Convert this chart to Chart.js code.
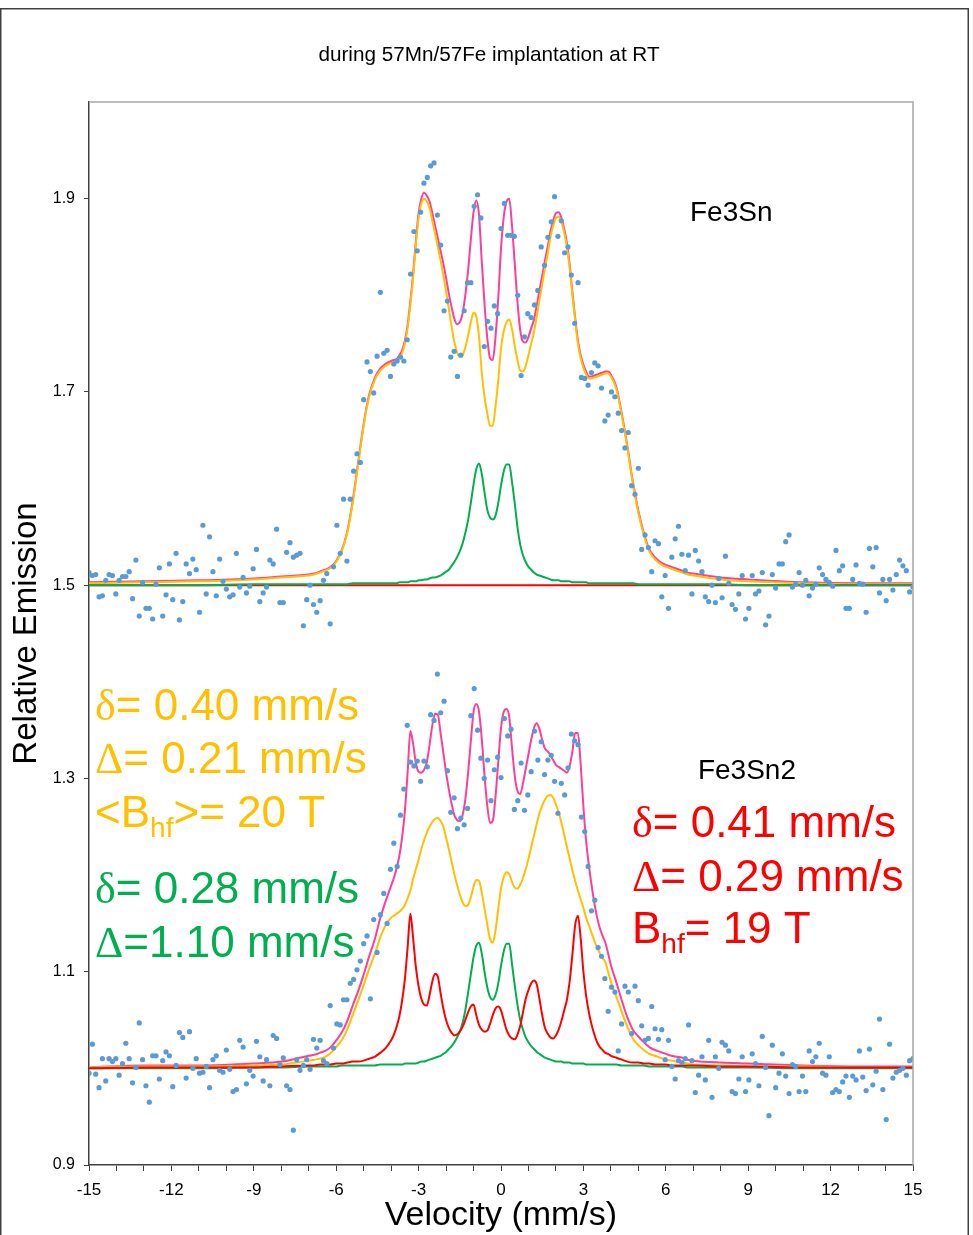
<!DOCTYPE html>
<html><head><meta charset="utf-8">
<script src="https://cdn.jsdelivr.net/npm/chart.js@4.4.1/dist/chart.umd.min.js"></script>
<style>html,body{margin:0;padding:0;background:#fff;}canvas{display:block;}</style>
</head><body>
<canvas id="c" width="973" height="1235"></canvas>
<script>
// ---------- texts ----------
const titleText = 'during 57Mn/57Fe implantation at RT';
const xAxisTitle = 'Velocity (mm/s)';
const yAxisTitle = 'Relative Emission';

// ---------- ticks ----------
const xTickValues = [-15,-14,-13,-12,-11,-10,-9,-8,-7,-6,-5,-4,-3,-2,-1,0,1,2,3,4,5,6,7,8,9,10,11,12,13,14,15];
const xLabelledTicks = [-15,-12,-9,-6,-3,0,3,6,9,12,15];
const yTickValues = [0.9,1.1,1.3,1.5,1.7,1.9];

// ---------- measured spectra (channel velocity range) ----------
const channelVelStart = -15;
const channelVelEnd = 15;

const upperCounts = [
1.513,1.510,1.511,1.488,1.489,1.505,1.511,1.510,1.491,1.505,
1.509,1.509,1.514,1.486,1.526,1.468,1.503,1.476,1.476,1.465,
1.501,1.518,1.468,1.490,1.522,1.485,1.533,1.464,1.483,1.522,
1.512,1.527,1.516,1.472,1.562,1.491,1.550,1.514,1.489,1.527,
1.504,1.496,1.488,1.490,1.533,1.498,1.508,1.492,1.499,1.517,
1.537,1.483,1.492,1.498,1.526,1.522,1.558,1.482,1.482,1.534,
1.544,1.529,1.531,1.533,1.458,1.485,1.500,1.480,1.472,1.484,
1.505,1.512,1.460,1.519,1.562,1.533,1.589,1.525,1.589,
1.618,1.636,1.627,
1.692,1.731,1.721,1.699,1.737,1.803,1.740,1.743,1.716,1.729,
1.732,1.736,1.732,1.754,1.822,1.866,1.846,1.886,1.916,1.922,
1.934,1.937,1.883,1.852,1.784,1.794,1.736,1.742,1.716,1.738,
1.784,1.813,1.813,1.892,1.904,1.880,1.747,1.773,1.766,1.789,
1.781,1.869,1.895,1.862,1.862,1.861,1.800,1.717,1.757,1.781,
1.777,1.790,1.805,1.850,1.831,1.860,1.876,1.902,1.861,1.877,
1.844,1.850,1.821,1.771,1.813,1.715,1.714,1.707,1.720,1.730,
1.727,1.704,1.670,1.676,1.700,1.695,1.678,1.660,1.642,1.658,
1.603,1.594,1.621,
1.537,1.552,1.539,1.514,1.546,1.543,1.488,1.510,1.476,1.529,
1.548,1.561,1.532,1.515,1.531,1.491,1.536,1.525,1.514,1.488,
1.483,1.500,1.482,1.507,1.487,1.530,1.502,1.480,1.475,1.491,
1.510,1.465,1.476,1.510,1.491,1.494,1.513,1.459,1.468,1.511,
1.497,1.522,1.522,1.545,1.552,1.498,1.501,1.513,1.500,1.505,
1.489,1.497,1.501,1.518,1.511,1.506,1.503,1.499,1.536,1.515,
1.520,1.476,1.476,1.506,1.521,1.502,1.501,1.472,1.538,1.519,
1.539,1.492,1.506,1.484,1.506,1.495,1.511,1.526,1.520,1.515,
1.493,1.498
];

const lowerCounts = [
0.995,1.025,0.994,0.980,1.010,0.987,1.010,1.007,1.010,0.993,
1.005,1.026,1.010,0.985,1.001,1.047,1.009,0.982,0.965,1.013,
1.013,0.989,1.008,1.017,1.013,0.981,1.003,1.037,1.032,0.990,
1.038,1.000,1.010,0.995,0.996,1.002,0.980,1.009,1.013,0.998,
0.996,1.019,0.999,0.976,0.978,1.029,1.022,0.984,0.998,0.992,
1.028,1.012,0.987,1.009,0.982,1.034,1.031,1.004,1.011,0.982,
0.978,0.936,1.009,0.998,1.003,1.009,0.999,1.030,1.021,1.029,
1.008,1.005,1.065,1.021,1.046,1.045,1.071,1.071,
1.088,1.092,1.102,1.111,1.129,
1.137,1.072,1.154,1.120,1.159,1.181,1.150,1.206,1.233,1.209,
1.262,1.289,1.355,1.317,1.313,1.318,1.297,1.318,1.312,1.366,
1.360,1.408,1.368,1.380,1.308,1.265,1.280,1.248,1.259,1.252,
1.269,1.365,1.393,1.350,1.321,1.300,1.319,1.277,1.309,1.322,
1.301,1.362,1.344,1.351,1.268,1.277,1.316,1.267,1.283,1.307,
1.349,1.319,1.338,1.304,1.319,1.324,1.297,1.264,1.295,1.283,
1.311,1.346,1.339,1.335,1.260,1.245,1.209,1.163,1.174,1.125,
1.116,
1.093,1.059,1.084,1.079,1.018,1.046,1.085,1.079,1.036,1.085,
1.070,1.044,1.029,1.031,1.064,1.041,1.030,1.040,1.009,1.029,1.002,
0.989,1.008,1.006,1.010,1.045,1.008,0.975,0.993,1.012,0.988,
1.029,0.970,1.012,1.000,1.027,1.024,1.018,0.976,0.974,0.989,
1.012,0.976,0.988,1.015,1.005,0.982,1.033,1.001,0.951,1.024,
0.980,0.995,1.015,0.992,0.974,1.004,1.002,0.976,0.992,0.976,
1.018,1.007,1.012,1.026,0.995,0.993,1.012,0.975,0.978,0.976,
0.986,0.992,0.970,0.992,0.988,1.018,0.991,0.977,1.020,0.983,
0.997,1.051,0.978,0.947,1.025,0.990,0.996,0.998,1.000,0.993,
1.008,1.010
];

// ---------- fitted curves (velocity grid + values) ----------
const curveVel = [-15,-13,-11,-9,-8,
-7,-6.8,-6.6,-6.4,-6.2,-6,-5.8,-5.6,-5.4,-5.2,-5,-4.8,-4.6,-4.4,-4.2,
-4,-3.9,-3.8,-3.7,-3.6,-3.5,-3.4,-3.3,-3.2,-3.1,
-3,-2.9,-2.8,-2.7,-2.6,-2.5,-2.4,-2.3,-2.2,-2.1,
-2,-1.9,-1.8,-1.7,-1.6,-1.5,-1.4,-1.3,-1.2,-1.1,
-1,-0.9,-0.8,-0.7,-0.6,-0.5,-0.4,-0.3,-0.2,-0.1,
0,0.1,0.2,0.3,0.4,0.5,0.6,0.7,0.8,0.9,
1,1.1,1.2,1.3,1.4,1.5,1.6,1.7,1.8,1.9,
2,2.1,2.2,2.3,2.4,2.5,2.6,2.7,2.8,2.9,
3,3.1,3.2,3.3,3.4,3.5,3.6,3.7,3.8,3.9,
4,
4.2,4.4,4.6,4.8,5,5.2,5.4,5.6,5.8,6,6.2,6.4,6.6,6.8,7,
8,9,11,13,15];

// Fe3Sn (upper)
const upperOrangeFit = [1.502,1.503,1.504,1.506,1.508,
1.510,1.511,1.513,1.515,1.518,1.524,1.535,1.554,1.585,1.625,1.665,1.695,1.712,1.722,1.727,
1.730,1.731,1.732,1.735,1.740,1.750,1.766,1.790,1.818,1.852,
1.880,1.895,1.900,1.897,1.890,1.877,1.864,1.850,1.836,1.821,
1.804,1.786,1.768,1.752,1.741,1.737,1.738,1.746,1.758,1.772,
1.782,1.778,1.757,1.720,1.695,1.678,1.665,1.665,1.685,1.712,
1.745,1.763,1.772,1.775,1.765,1.748,1.733,1.722,1.721,1.727,
1.738,1.750,1.762,1.778,1.795,1.811,1.828,1.843,1.860,1.872,
1.880,1.881,1.876,1.865,1.850,1.828,1.800,1.774,1.750,1.735,
1.725,1.718,1.714,1.714,1.715,1.716,1.717,1.718,1.719,1.719,
1.716,
1.703,1.675,1.642,1.605,1.575,1.552,1.535,1.527,1.522,1.519,1.517,1.515,1.513,1.511,1.510,
1.506,1.504,1.502,1.501,1.501];

const upperGreenFit = [1.500,1.500,1.500,1.501,1.501,
1.501,1.501,1.501,1.501,1.501,1.501,1.501,1.501,1.502,1.502,1.502,1.502,1.502,1.502,1.502,
1.502,1.502,1.502,1.503,1.503,1.503,1.503,1.504,1.504,1.504,
1.505,1.505,1.506,1.506,1.507,1.508,1.508,1.509,1.510,1.512,
1.514,1.516,1.520,1.524,1.529,1.535,1.543,1.554,1.567,1.585,
1.604,1.620,1.626,1.615,1.596,1.578,1.570,1.568,1.572,1.585,
1.603,1.618,1.625,1.625,1.607,1.585,1.560,1.542,1.531,1.524,
1.519,1.516,1.513,1.511,1.510,1.509,1.508,1.507,1.506,1.505,
1.505,1.505,1.504,1.504,1.504,1.504,1.503,1.503,1.503,1.503,
1.503,1.503,1.502,1.502,1.502,1.502,1.502,1.502,1.502,1.502,
1.502,
1.502,1.502,1.502,1.502,1.501,1.501,1.501,1.501,1.501,1.501,1.501,1.501,1.501,1.501,1.501,
1.501,1.500,1.500,1.500,1.500];

const upperTotalFit = [1.503,1.504,1.505,1.507,1.509,
1.511,1.512,1.514,1.516,1.519,1.525,1.536,1.555,1.587,1.627,1.667,1.697,1.714,1.724,1.729,
1.732,1.733,1.734,1.738,1.743,1.753,1.769,1.794,1.822,1.856,
1.885,1.900,1.906,1.903,1.897,1.885,1.872,1.859,1.846,1.833,
1.818,1.802,1.788,1.776,1.770,1.772,1.781,1.800,1.825,1.857,
1.886,1.898,1.883,1.835,1.791,1.756,1.735,1.733,1.757,1.797,
1.848,1.881,1.897,1.900,1.872,1.833,1.793,1.764,1.752,1.751,
1.757,1.766,1.775,1.789,1.805,1.820,1.836,1.850,1.866,1.877,
1.885,1.886,1.880,1.869,1.854,1.832,1.803,1.777,1.753,1.738,
1.728,1.721,1.716,1.716,1.717,1.718,1.719,1.720,1.721,1.721,
1.718,
1.705,1.677,1.644,1.607,1.577,1.554,1.537,1.529,1.524,1.521,1.519,1.517,1.515,1.513,1.512,
1.508,1.506,1.503,1.502,1.502];

const upperRedVel = [-15, 15];
const upperRedFit = [1.500, 1.500];

// Fe3Sn2 (lower)
const lowerOrangeFit = [1.001,1.002,1.002,1.003,1.004,
1.008,1.009,1.010,1.012,1.016,1.022,1.029,1.040,1.055,1.070,1.086,1.103,1.118,1.135,1.148,
1.156,1.158,1.160,1.162,1.165,1.169,1.176,1.184,1.196,1.206,
1.216,1.227,1.236,1.244,1.250,1.255,1.258,1.259,1.256,1.250,
1.239,1.227,1.214,1.201,1.190,1.180,1.172,1.168,1.169,1.177,
1.188,1.195,1.194,1.182,1.165,1.149,1.134,1.130,1.143,1.165,
1.186,1.198,1.203,1.201,1.193,1.187,1.186,1.190,1.197,1.206,
1.217,1.229,1.241,1.253,1.264,1.272,1.278,1.282,1.283,1.280,
1.273,1.265,1.254,1.242,1.229,1.217,1.205,1.194,1.184,1.175,
1.166,1.156,1.148,1.140,1.132,1.125,1.119,1.114,1.110,1.100,
1.090,
1.074,1.058,1.043,1.031,1.024,1.019,1.015,1.013,1.011,1.009,1.008,1.007,1.006,1.005,1.004,
1.003,1.002,1.002,1.001,1.001];

const lowerRedFit = [1.000,1.001,1.001,1.001,1.002,
1.003,1.003,1.004,1.004,1.004,1.005,1.005,1.006,1.007,1.007,1.008,1.010,1.012,1.016,1.021,
1.029,1.035,1.043,1.054,1.070,1.092,1.125,1.160,1.135,1.105,
1.085,1.072,1.066,1.065,1.076,1.090,1.098,1.095,1.078,1.062,
1.050,1.042,1.037,1.034,1.035,1.038,1.043,1.050,1.058,1.064,
1.066,1.055,1.045,1.040,1.038,1.039,1.046,1.055,1.062,1.064,
1.060,1.050,1.040,1.034,1.031,1.030,1.035,1.044,1.058,1.072,
1.081,1.088,1.091,1.087,1.072,1.055,1.042,1.036,1.032,1.031,
1.034,1.040,1.049,1.060,1.071,1.090,1.118,1.148,1.158,1.135,
1.100,1.075,1.058,1.045,1.035,1.027,1.022,1.019,1.016,1.015,
1.013,
1.011,1.009,1.007,1.006,1.006,1.005,1.005,1.004,1.004,1.004,1.003,1.003,1.003,1.003,1.003,
1.002,1.002,1.001,1.001,1.001];

const lowerGreenFit = [1.000,1.000,1.000,1.001,1.001,
1.002,1.002,1.002,1.002,1.002,1.002,1.003,1.003,1.003,1.003,1.003,1.003,1.003,1.004,1.004,
1.004,1.004,1.004,1.004,1.004,1.005,1.005,1.005,1.005,1.005,
1.006,1.007,1.007,1.008,1.009,1.010,1.011,1.012,1.013,1.015,
1.017,1.020,1.023,1.027,1.032,1.038,1.047,1.060,1.078,1.097,
1.115,1.127,1.130,1.119,1.100,1.084,1.074,1.071,1.076,1.088,
1.106,1.121,1.129,1.129,1.108,1.086,1.066,1.050,1.040,1.032,
1.027,1.023,1.020,1.017,1.015,1.013,1.011,1.010,1.009,1.008,
1.007,1.007,1.007,1.006,1.006,1.006,1.005,1.005,1.005,1.005,
1.005,1.004,1.004,1.004,1.004,1.004,1.004,1.004,1.004,1.004,
1.004,
1.004,1.003,1.003,1.003,1.003,1.003,1.002,1.002,1.002,1.002,1.002,1.002,1.002,1.001,1.001,
1.001,1.001,1.000,1.000,1.000];

const lowerTotalFit = [1.001,1.003,1.003,1.005,1.007,
1.013,1.014,1.016,1.018,1.022,1.029,1.037,1.049,1.065,1.080,1.097,1.116,1.133,1.155,1.173,
1.189,1.197,1.207,1.220,1.239,1.266,1.306,1.349,1.336,1.316,
1.307,1.306,1.309,1.317,1.335,1.355,1.367,1.366,1.347,1.327,
1.306,1.289,1.274,1.262,1.257,1.256,1.262,1.278,1.305,1.338,
1.369,1.377,1.369,1.341,1.303,1.272,1.254,1.256,1.281,1.317,
1.352,1.369,1.372,1.364,1.332,1.303,1.287,1.284,1.295,1.310,
1.325,1.340,1.352,1.357,1.351,1.340,1.331,1.328,1.324,1.319,
1.314,1.312,1.310,1.308,1.306,1.313,1.328,1.347,1.347,1.315,
1.271,1.235,1.210,1.189,1.171,1.156,1.145,1.137,1.130,1.119,
1.107,
1.089,1.070,1.053,1.040,1.033,1.027,1.022,1.019,1.017,1.015,1.013,1.012,1.011,1.009,1.008,
1.006,1.005,1.003,1.002,1.002];

// ---------- build ----------
const BLUE = '#5B9BD5', PINK = '#FF3E9A', GOLD = '#FFC000', GREEN = '#00B050', RED = '#FF0000';
const SANS = '"Liberation Sans", Arial, sans-serif';
const SERIF = '"Liberation Serif", "Times New Roman", serif';

function channels(arr){
  const step = (channelVelEnd - channelVelStart) / (arr.length - 1);
  return arr.map((y, i) => ({x: channelVelStart + i * step, y}));
}
function curve(xs, ys){ return xs.map((x, i) => ({x, y: ys[i]})); }
function pts(label, arr){
  return {label, data: channels(arr), showLine: false, pointRadius: 2.6, pointHoverRadius: 2.6,
          pointBackgroundColor: BLUE, pointBorderWidth: 0, borderColor: BLUE};
}
function line(label, xs, ys, color){
  return {label, data: curve(xs, ys), showLine: true, pointRadius: 0, borderColor: color,
          borderWidth: 2, cubicInterpolationMode: 'monotone', fill: false};
}

const datasets = [
  pts('Fe3Sn data', upperCounts),
  pts('Fe3Sn2 data', lowerCounts),
  line('Fe3Sn doublet', curveVel, upperGreenFit, GREEN),
  line('Fe3Sn sextet', upperRedVel, upperRedFit, RED),
  line('Fe3Sn distribution', curveVel, upperOrangeFit, GOLD),
  line('Fe3Sn total', curveVel, upperTotalFit, PINK),
  line('Fe3Sn2 sextet', curveVel, lowerRedFit, RED),
  line('Fe3Sn2 doublet', curveVel, lowerGreenFit, GREEN),
  line('Fe3Sn2 distribution', curveVel, lowerOrangeFit, GOLD),
  line('Fe3Sn2 total', curveVel, lowerTotalFit, PINK)
];

// annotation text blocks anchored in data coordinates (left, baseline)
const annotations = [
  {x: 6.88, y: 1.877, color: '#000', size: 28, parts: [{t: 'Fe3Sn'}]},
  {x: 7.17, y: 1.299, color: '#000', size: 28, parts: [{t: 'Fe3Sn2'}]},
  {x: -14.78, y: 1.361, color: GOLD, size: 44, parts: [{t: 'δ', serif: true}, {t: '= 0.40 mm/s'}]},
  {x: -14.78, y: 1.306, color: GOLD, size: 44, parts: [{t: 'Δ', serif: true}, {t: '= 0.21 mm/s'}]},
  {x: -14.78, y: 1.250, color: GOLD, size: 44, parts: [{t: '<B'}, {t: 'hf', sub: true}, {t: '>= 20 T'}]},
  {x: -14.78, y: 1.171, color: GREEN, size: 44, parts: [{t: 'δ', serif: true}, {t: '= 0.28 mm/s'}]},
  {x: -14.78, y: 1.115, color: GREEN, size: 44, parts: [{t: 'Δ', serif: true}, {t: '=1.10 mm/s'}]},
  {x: 4.77, y: 1.239, color: RED, size: 44, parts: [{t: 'δ', serif: true}, {t: '= 0.41 mm/s'}]},
  {x: 4.77, y: 1.184, color: RED, size: 44, parts: [{t: 'Δ', serif: true}, {t: '= 0.29 mm/s'}]},
  {x: 4.77, y: 1.130, color: RED, size: 44, parts: [{t: 'B'}, {t: 'hf', sub: true}, {t: '= 19 T'}]}
];

const decorPlugin = {
  id: 'decor',
  beforeDraw(chart){
    const ctx = chart.ctx;
    ctx.save(); ctx.fillStyle = '#fff'; ctx.fillRect(0, 0, chart.width, chart.height); ctx.restore();
  },
  afterDatasetsDraw(chart){
    const {ctx, scales} = chart;
    ctx.save();
    ctx.textBaseline = 'alphabetic';
    ctx.textAlign = 'left';
    annotations.forEach(a => {
      let px = scales.x.getPixelForValue(a.x);
      const py = scales.y.getPixelForValue(a.y);
      ctx.fillStyle = a.color;
      a.parts.forEach(p => {
        const size = p.sub ? Math.round(a.size * 0.63) : a.size;
        ctx.font = size + 'px ' + (p.serif ? SERIF : SANS);
        const dy = p.sub ? a.size * 0.24 : 0;
        ctx.fillText(p.t, px, py + dy);
        px += ctx.measureText(p.t).width;
      });
    });
    ctx.restore();
  },
  afterDraw(chart){
    const {ctx, chartArea: a} = chart;
    ctx.save();
    // figure title, centred on the whole figure
    ctx.fillStyle = '#000';
    ctx.font = '20.7px ' + SANS;
    ctx.textAlign = 'center';
    ctx.textBaseline = 'middle';
    ctx.fillText(titleText, 489, 55);
    // plot frame (top/right in grey)
    ctx.strokeStyle = '#a6a6a6'; ctx.lineWidth = 1.5;
    ctx.beginPath(); ctx.moveTo(a.left, a.top); ctx.lineTo(a.right, a.top); ctx.lineTo(a.right, a.bottom); ctx.stroke();
    // outer figure border
    ctx.strokeStyle = '#404040'; ctx.lineWidth = 1.5;
    ctx.strokeRect(0.75, 8.75, 967.5, 1240);
    ctx.restore();
  }
};

new Chart(document.getElementById('c'), {
  type: 'scatter',
  data: {datasets},
  plugins: [decorPlugin],
  options: {
    responsive: false, animation: false, devicePixelRatio: 1, events: [],
    layout: {padding: {left: 0, right: 60, top: 102, bottom: 0}},
    plugins: {
      legend: {display: false}, tooltip: {enabled: false}, title: {display: false}
    },
    scales: {
      x: {
        type: 'linear', min: -15, max: 15,
        afterBuildTicks: s => { s.ticks = xTickValues.map(v => ({value: v})); },
        afterFit: s => { s.height = 70; },
        border: {display: true, color: '#404040', width: 1.5},
        grid: {display: true, drawOnChartArea: false, drawTicks: true, tickLength: 6, color: '#404040', lineWidth: 1},
        ticks: {autoSkip: false, maxRotation: 0, padding: 9, color: '#000',
                font: {family: SANS, size: 17},
                callback: v => xLabelledTicks.includes(v) ? String(v) : ''},
        title: {display: true, text: xAxisTitle, color: '#000',
                font: {family: SANS, size: 34, lineHeight: 1}, padding: {top: 0, bottom: 2}}
      },
      y: {
        type: 'linear', min: 0.9, max: 2.0,
        afterBuildTicks: s => { s.ticks = yTickValues.map(v => ({value: v})); },
        afterFit: s => { s.width = 89; },
        border: {display: true, color: '#404040', width: 1.5},
        grid: {display: true, drawOnChartArea: false, drawTicks: true, tickLength: 5, color: '#404040', lineWidth: 1},
        ticks: {autoSkip: false, padding: 9, color: '#000', font: {family: SANS, size: 16},
                callback: v => Number(v).toFixed(1)},
        title: {display: true, text: yAxisTitle, color: '#000',
                font: {family: SANS, size: 33, lineHeight: 1}, padding: {top: 10, bottom: 0}}
      }
    }
  }
});
</script>
</body></html>
